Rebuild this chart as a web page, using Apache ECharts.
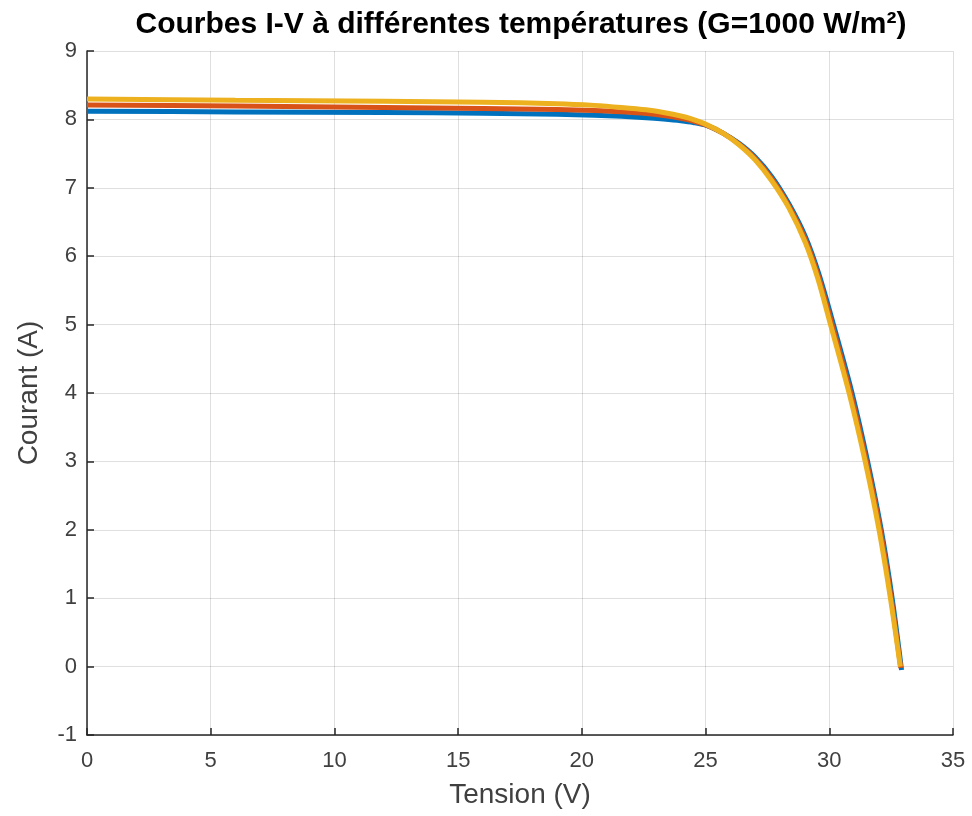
<!DOCTYPE html>
<html>
<head>
<meta charset="utf-8">
<script src="https://cdn.jsdelivr.net/npm/echarts@6/dist/echarts.min.js"></script>
<style>html,body{margin:0;padding:0;background:#fff}#chart{width:972px;height:816px}</style>
</head>
<body>
<div id="chart"></div>
<script>
const titleText = 'Courbes I-V à différentes températures (G=1000 W/m²)';
const xName = 'Tension (V)';
const yName = 'Courant (A)';
const xTicks = [0, 5, 10, 15, 20, 25, 30, 35];
const yTicks = [-1, 0, 1, 2, 3, 4, 5, 6, 7, 8, 9];

// Series 1 (blue)
const v1 = [0, 6, 12, 16, 19, 20.5, 21.6, 22.6, 23.3, 24.0, 24.5, 25.06, 25.7, 26.35, 27.0, 27.68, 28.36, 29.03, 29.57, 30.17, 30.92, 31.55, 32.1, 32.54, 32.92];
const i1 = [8.12, 8.11, 8.10, 8.09, 8.075, 8.06, 8.045, 8.025, 8.005, 7.98, 7.955, 7.91, 7.80, 7.65, 7.45, 7.16, 6.77, 6.29, 5.75, 5.00, 4.00, 3.00, 2.00, 1.00, -0.05];
// Series 2 (orange)
const v2 = [0, 6, 12, 16, 19, 20.5, 21.6, 22.6, 23.3, 24.0, 24.5, 25.06, 25.7, 26.35, 27.0, 27.68, 28.36, 29.03, 29.55, 30.11, 30.86, 31.5, 32.06, 32.5, 32.89];
const i2 = [8.21, 8.195, 8.175, 8.16, 8.145, 8.13, 8.11, 8.085, 8.055, 8.015, 7.975, 7.91, 7.80, 7.64, 7.43, 7.13, 6.74, 6.245, 5.715, 5.00, 4.00, 3.00, 2.00, 1.00, -0.02];
// Series 3 (yellow)
const v3 = [0, 6, 12, 16, 19, 20.5, 21.6, 22.6, 23.3, 24.0, 24.4, 25.06, 25.7, 26.35, 27.0, 27.68, 28.36, 29.03, 29.53, 30.05, 30.8, 31.45, 32.01, 32.47, 32.87];
const i3 = [8.30, 8.28, 8.265, 8.25, 8.23, 8.205, 8.175, 8.14, 8.10, 8.05, 8.01, 7.92, 7.80, 7.63, 7.41, 7.10, 6.71, 6.20, 5.68, 5.00, 4.00, 3.00, 2.00, 1.00, 0.00];

const colors = ['#0072BD', '#D95319', '#EDB120'];
const FONT = '"Liberation Sans", Arial, Helvetica, sans-serif';

function pairs(v, i) { return v.map((x, k) => [x, i[k]]); }

const chart = echarts.init(document.getElementById('chart'), null, {renderer: 'canvas'});
const gridColor = 'rgba(38,38,38,0.15)';
const axisColor = '#262626';
const labelColor = '#404040';

chart.setOption({
  animation: false,
  backgroundColor: '#ffffff',
  title: {
    text: titleText,
    left: 516,
    textAlign: 'center',
    top: 5,
    textStyle: {fontFamily: FONT, fontSize: 30, fontWeight: 'bold', color: '#000'}
  },
  grid: {left: 87, right: 19, top: 51, bottom: 81, containLabel: false},
  xAxis: {
    type: 'value',
    min: xTicks[0], max: xTicks[xTicks.length - 1], interval: 5,
    name: xName, nameLocation: 'middle', nameGap: 46,
    nameTextStyle: {fontFamily: FONT, fontSize: 28, color: labelColor},
    axisLine: {show: true, onZero: false, lineStyle: {color: axisColor, width: 1.5}},
    axisTick: {show: true, inside: true, length: 7, lineStyle: {color: axisColor, width: 1.5}},
    axisLabel: {fontFamily: FONT, fontSize: 22, color: labelColor, margin: 15},
    splitLine: {show: true, lineStyle: {color: gridColor, width: 1}}
  },
  yAxis: {
    type: 'value',
    min: yTicks[0], max: yTicks[yTicks.length - 1], interval: 1,
    name: yName, nameLocation: 'middle', nameGap: 44, nameRotate: 90,
    nameTextStyle: {fontFamily: FONT, fontSize: 28, color: labelColor},
    axisLine: {show: true, onZero: false, lineStyle: {color: axisColor, width: 1.5}},
    axisTick: {show: true, inside: true, length: 7, lineStyle: {color: axisColor, width: 1.5}},
    axisLabel: {fontFamily: FONT, fontSize: 22, color: labelColor, margin: 10},
    splitLine: {show: true, lineStyle: {color: gridColor, width: 1}}
  },
  series: [
    {type: 'line', data: pairs(v1, i1), showSymbol: false, smooth: 0.3, lineStyle: {color: colors[0], width: 5}, itemStyle: {color: colors[0]}, z: 2},
    {type: 'line', data: pairs(v2, i2), showSymbol: false, smooth: 0.3, lineStyle: {color: colors[1], width: 5}, itemStyle: {color: colors[1]}, z: 3},
    {type: 'line', data: pairs(v3, i3), showSymbol: false, smooth: 0.3, lineStyle: {color: colors[2], width: 5}, itemStyle: {color: colors[2]}, z: 4}
  ]
});
</script>
</body>
</html>
